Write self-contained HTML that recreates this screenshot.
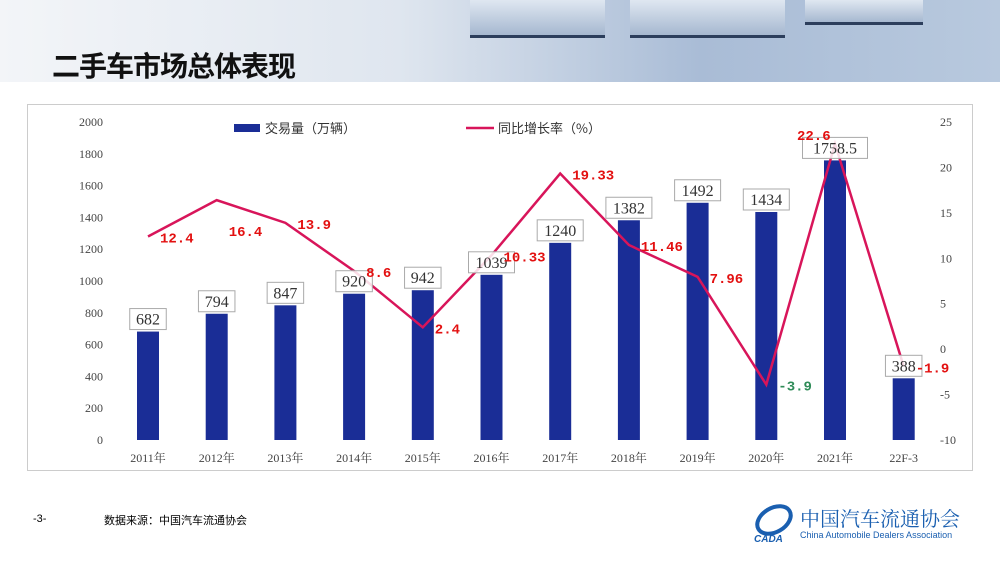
<!DOCTYPE html>
<html><head><meta charset="utf-8">
<style>
body{margin:0;width:1000px;height:563px;overflow:hidden;background:#fff;font-family:"Liberation Sans","Noto Sans CJK SC",sans-serif;position:relative}
#hdr{position:absolute;left:0;top:0;width:1000px;height:82px;background:linear-gradient(90deg,#f3f5f8 0%,#dfe6ef 40%,#a9bcd6 70%,#b8c9de 100%)}
.cube{position:absolute;background:linear-gradient(180deg,#dfe7f1,#a6b8d0);border-bottom:3px solid #2c3e5c}
#title{position:absolute;left:52px;top:48px;font-size:28px;font-weight:bold;color:#111;font-family:"Noto Sans CJK SC",sans-serif;letter-spacing:-1px;line-height:34px}
#frame{position:absolute;left:27px;top:104px;width:946px;height:367px;border:1px solid #ccc;box-sizing:border-box}
#foot1{position:absolute;left:33px;top:513px;font-size:11px}
#foot2{position:absolute;left:104px;top:512px;font-size:11px;font-family:"Noto Sans CJK SC",sans-serif}
#logo{position:absolute;left:752px;top:500px}
</style></head><body>
<div id="hdr">
<div class="cube" style="left:470px;top:0;width:135px;height:35px"></div>
<div class="cube" style="left:630px;top:0;width:155px;height:35px"></div>
<div class="cube" style="left:805px;top:0;width:118px;height:22px"></div>
</div>
<div id="title">二手车市场总体表现</div>
<div id="frame"></div>
<svg id="chart" width="1000" height="563" style="position:absolute;left:0;top:0"></svg>
<div id="foot1">-3-</div>
<div id="foot2">数据来源：中国汽车流通协会</div>
<div id="logo">
<svg width="220" height="45">
<ellipse cx="22" cy="20" rx="18" ry="12" fill="none" stroke="#1a5fb0" stroke-width="4" transform="rotate(-30 22 20)"/>
<text x="2" y="42" font-size="10" font-style="italic" font-weight="bold" fill="#1a5fb0" font-family="Liberation Sans">CADA</text>
<text x="48" y="26" font-size="20" fill="#1a5fb0" font-family="Noto Serif CJK SC,serif">中国汽车流通协会</text>
<text x="48" y="38" font-size="9" fill="#1a5fb0" font-family="Liberation Sans">China Automobile Dealers Association</text>
</svg></div>
<script>
const categories=["2011年","2012年","2013年","2014年","2015年","2016年","2017年","2018年","2019年","2020年","2021年","22F-3"];
const volumes=[682,794,847,920,942,1039,1240,1382,1492,1434,1758.5,388];
const volumeLabels=["682","794","847","920","942","1039","1240","1382","1492","1434","1758.5","388"];
const growth=[12.4,16.4,13.9,8.6,2.4,10.33,19.33,11.46,7.96,-3.9,22.6,-1.9];
const growthLabels=["12.4","16.4","13.9","8.6","2.4","10.33","19.33","11.46","7.96","-3.9","22.6","-1.9"];
const leftTicks=[0,200,400,600,800,1000,1200,1400,1600,1800,2000];
const rightTicks=[-10,-5,0,5,10,15,20,25];
const labelDy=[6,36,6,6,6,6,6,6,6,6,-4,6];
const svg=document.getElementById('chart');const NS='http://www.w3.org/2000/svg';
const yL=v=>440-v*318/2000, yR=v=>440-(v+10)*318/35, x=i=>148+i*68.7;
function mk(t,a,txt){const e=document.createElementNS(NS,t);for(const k in a)e.setAttribute(k,a[k]);if(txt!==undefined)e.textContent=txt;svg.appendChild(e);return e;}
leftTicks.forEach(v=>{const e=mk('text',{x:103,y:yL(v)+4,'text-anchor':'end','font-size':12,fill:'#444','font-family':'Liberation Serif'},v);

});
rightTicks.forEach(v=>{const e=mk('text',{x:940,y:yR(v)+4,'font-size':12,fill:'#444','font-family':'Liberation Serif'},v);

});
categories.forEach((c,i)=>{const e=mk('text',{x:x(i),y:462,'text-anchor':'middle','font-size':12,fill:'#444','font-family':'Liberation Serif, Noto Serif CJK SC, serif'},c);

});
volumes.forEach((v,i)=>{const r=mk('rect',{x:x(i)-11,y:yL(v),width:22,height:440-yL(v),fill:'#1a2d96'});

});
const pts=growth.map((g,i)=>x(i)+','+yR(g)).join(' ');
const pl=mk('polyline',{points:pts,fill:'none',stroke:'#d8155a','stroke-width':2.5});


volumes.forEach((v,i)=>{const t=volumeLabels[i];const w=t.length*9.5+8;const yy=yL(v)-12;
const b=mk('rect',{x:x(i)-w/2,y:yy-11,width:w,height:21,fill:'rgba(255,255,255,0.85)',stroke:'#aaa','stroke-width':1});


const e=mk('text',{x:x(i),y:yy+5,'text-anchor':'middle','font-size':16,fill:'#333','font-family':'Liberation Serif'},t);

});
growth.forEach((g,i)=>{const e=mk('text',{x:x(i)+12,y:yR(g)+labelDy[i],'font-size':14,fill:g<0&&i==9?'#2e8b57':'#e31010','font-family':'Liberation Mono','font-weight':'bold'},growthLabels[i]);
if(i==10){e.setAttribute('x',x(i)-38);}

});
const lb=mk('rect',{x:234,y:124,width:26,height:8,fill:'#1a2d96'});


const lt1=mk('text',{x:265,y:133,'font-size':13,fill:'#333','font-family':'Noto Sans CJK SC, sans-serif'},'交易量（万辆）');


const ll=mk('line',{x1:466,y1:128,x2:494,y2:128,stroke:'#d8155a','stroke-width':2.5});


const lt2=mk('text',{x:498,y:133,'font-size':13,fill:'#333','font-family':'Noto Sans CJK SC, sans-serif'},'同比增长率（%）');


</script>
</body></html>
